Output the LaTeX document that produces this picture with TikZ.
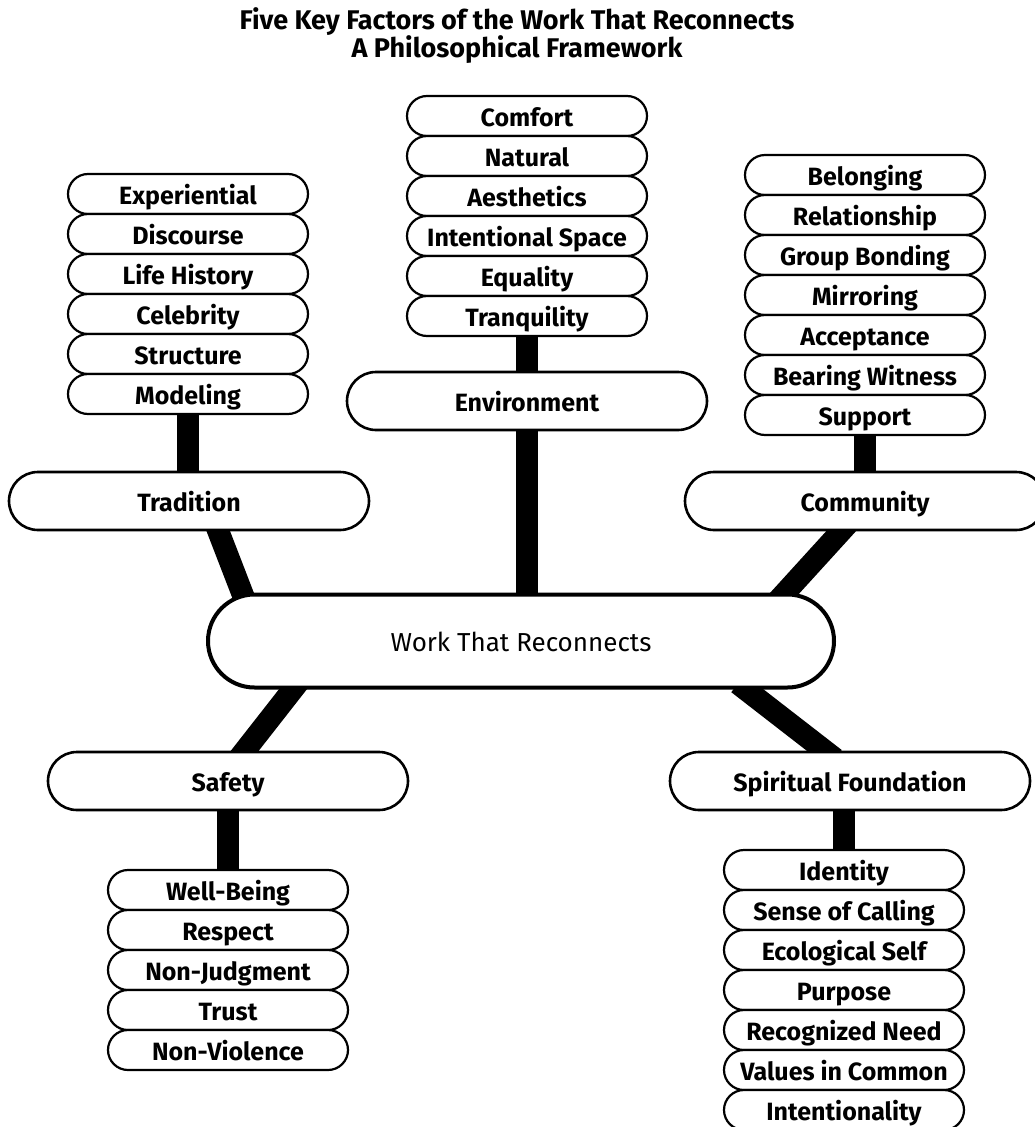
\documentclass[tikz,border=0pt]{standalone}
\usepackage{fontspec}
\setmainfont{Fira Sans}
\usetikzlibrary{shapes.misc,calc,backgrounds}
\tikzset{
  x=1pt, y=-1pt,
  itembox/.style={rounded rectangle, draw=black, line width=2.2pt, fill=white,
    minimum width=240pt, minimum height=40pt, inner sep=0pt,
    text height=20pt, text depth=0pt,
    font=\fontsize{25}{30}\selectfont\bfseries},
  mainbox/.style={rounded rectangle, draw=black, line width=2.6pt, fill=white,
    minimum width=360pt, minimum height=58pt, inner sep=0pt,
    text height=20pt, text depth=0pt,
    font=\fontsize{25}{30}\selectfont\bfseries},
  hubbox/.style={rounded rectangle, draw=black, line width=4pt, fill=white,
    minimum width=626pt, minimum height=93pt, inner sep=0pt,
    text height=20pt, text depth=0pt,
    font=\fontsize{26}{30}\selectfont},
  titletext/.style={font=\fontsize{27}{30}\selectfont\bfseries, inner sep=0pt},
  barline/.style={line width=22pt, draw=black},
}
\begin{document}
\begin{tikzpicture}
\useasboundingbox (0,0) rectangle (1035,1127);

% title
\node[titletext] (t1) at (517,22) {Five Key Factors of the Work That Reconnects};
\node[titletext] (t2) at (517,50) {A Philosophical Framework};

% hub and main nodes
\node[hubbox] (hub) at (521,641) {Work That Reconnects};
\node[mainbox] (trad) at (189,501) {Tradition};
\node[mainbox] (env) at (527,401) {Environment};
\node[mainbox] (comm) at (865,501) {Community};
\node[mainbox] (safe) at (228,781) {Safety};
\node[mainbox] (spir) at (850,781) {Spiritual Foundation};

% Tradition stack
\node[itembox] (tr1) at (188,194) {Experiential};
\node[itembox] (tr2) at (188,234) {Discourse};
\node[itembox] (tr3) at (188,274) {Life History};
\node[itembox] (tr4) at (188,314) {Celebrity};
\node[itembox] (tr5) at (188,354) {Structure};
\node[itembox] (tr6) at (188,394) {Modeling};

% Environment stack
\node[itembox] (en1) at (527,116) {Comfort};
\node[itembox] (en2) at (527,156) {Natural};
\node[itembox] (en3) at (527,196) {Aesthetics};
\node[itembox] (en4) at (527,236) {Intentional Space};
\node[itembox] (en5) at (527,276) {Equality};
\node[itembox] (en6) at (527,316) {Tranquility};

% Community stack
\node[itembox] (co1) at (865,175) {Belonging};
\node[itembox] (co2) at (865,215) {Relationship};
\node[itembox] (co3) at (865,255) {Group Bonding};
\node[itembox] (co4) at (865,295) {Mirroring};
\node[itembox] (co5) at (865,335) {Acceptance};
\node[itembox] (co6) at (865,375) {Bearing Witness};
\node[itembox] (co7) at (865,415) {Support};

% Safety stack
\node[itembox] (sa1) at (228,890) {Well-Being};
\node[itembox] (sa2) at (228,930) {Respect};
\node[itembox] (sa3) at (228,970) {Non-Judgment};
\node[itembox] (sa4) at (228,1010) {Trust};
\node[itembox] (sa5) at (228,1050) {Non-Violence};

% Spiritual stack
\node[itembox] (sp1) at (844,870) {Identity};
\node[itembox] (sp2) at (844,910) {Sense of Calling};
\node[itembox] (sp3) at (844,950) {Ecological Self};
\node[itembox] (sp4) at (844,990) {Purpose};
\node[itembox] (sp5) at (844,1030) {Recognized Need};
\node[itembox] (sp6) at (844,1070) {Values in Common};
\node[itembox] (sp7) at (844,1110) {Intentionality};

\begin{pgfonlayer}{background}
  \fill[white] (0,0) rectangle (1035,1127);
  \draw[barline] (tr6.south) -- (tr6.south |- trad.north);
  \draw[barline] (en6.south) -- (env.north);
  \draw[barline] (co7.south) -- (comm.north);
  \draw[barline] (safe.south) -- (sa1.north);
  \draw[barline] (sp1.north |- spir.south) -- (sp1.north);
  \draw[barline] (env.south) -- (hub.north -| env.south);
  \draw[barline] ($(trad.south)+(22,-19)$) -- ($(hub.north)+(-274,13)$);
  \draw[barline] ($(comm.south)+(-14,-11)$) -- ($(hub.north)+(257,8)$);
  \draw[barline] ($(hub.south)+(-222,-8)$) -- ($(safe.north)+(9,10)$);
  \draw[barline] ($(hub.south)+(217,-6)$) -- ($(spir.north)+(-15,8)$);
\end{pgfonlayer}
\end{tikzpicture}
\end{document}
